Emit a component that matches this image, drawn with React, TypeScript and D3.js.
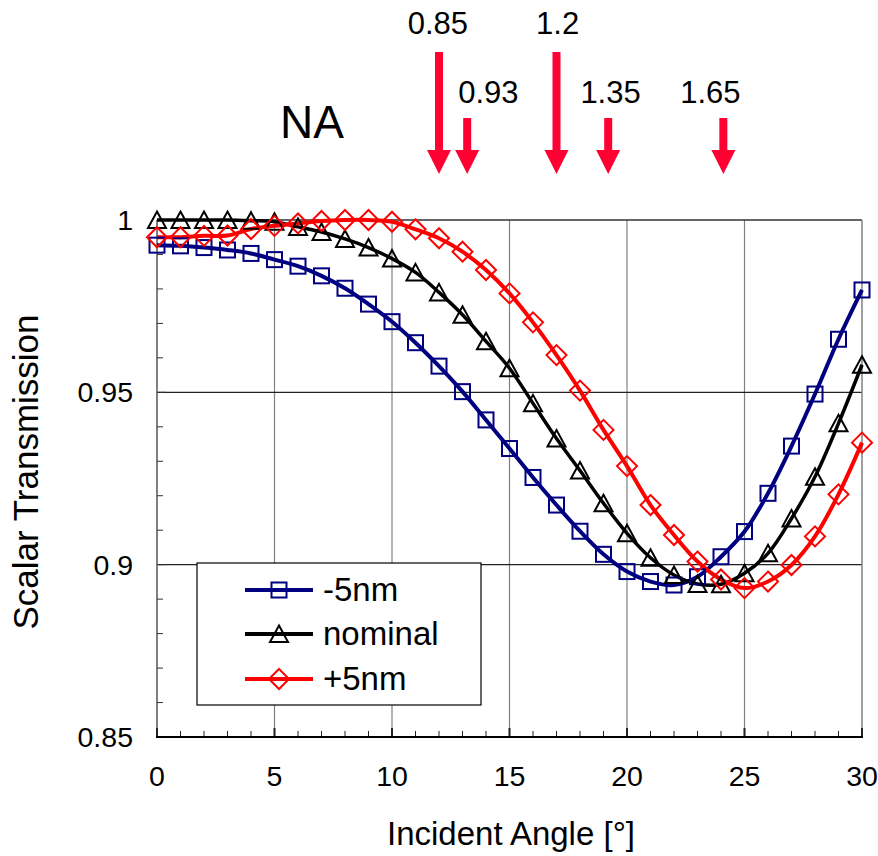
import React from 'react';
import * as d3 from 'd3';

// incident angle [deg]
const angles = [0, 1, 2, 3, 4, 5, 6, 7, 8, 9, 10, 11, 12, 13, 14, 15, 16, 17, 18, 19, 20, 21, 22, 23, 24, 25, 26, 27, 28, 29, 30];

const minus5nm = [0.9927, 0.9925, 0.992, 0.9913, 0.9903, 0.9885, 0.9866, 0.9838, 0.9802, 0.9756, 0.9705, 0.9644, 0.9576, 0.9502, 0.942, 0.9337, 0.9253, 0.9173, 0.9097, 0.903, 0.898, 0.8951, 0.8941, 0.8965, 0.9023, 0.9096, 0.9207, 0.9344, 0.9495, 0.9654, 0.9797];
const nominal = [1.0, 1.0, 1.0, 1.0, 0.9998, 0.9995, 0.998, 0.9965, 0.9945, 0.992, 0.9888, 0.9848, 0.979, 0.9725, 0.9648, 0.957, 0.9468, 0.9366, 0.9273, 0.9178, 0.9091, 0.902, 0.897, 0.8944, 0.8943, 0.8975, 0.9033, 0.9134, 0.9255, 0.941, 0.958];
const plus5nm = [0.995, 0.995, 0.9954, 0.9955, 0.9974, 0.9983, 0.999, 0.9997, 1.0, 1.0, 0.9995, 0.9973, 0.9947, 0.9908, 0.9855, 0.9787, 0.9703, 0.9608, 0.9505, 0.9391, 0.9286, 0.9173, 0.9086, 0.9009, 0.8957, 0.8932, 0.8951, 0.8999, 0.9082, 0.9204, 0.9354];

const seriesNames = ['-5nm', 'nominal', '+5nm'];
const seriesColors = ['#000080', '#000000', '#ff0000'];
const seriesShapes = ['square', 'triangle', 'diamond'];

// NA annotation arrows: label, angle the arrow points at, angle the label sits over, long/short
const naLabels = ['0.85', '0.93', '1.2', '1.35', '1.65'];
const naAngles = [12, 13.2, 17, 19.2, 24.1];
const naLabelAngles = [11.95, 14.1, 17.05, 19.3, 23.55];
const naLong = [true, false, true, false, false];

const xTicks = [0, 5, 10, 15, 20, 25, 30];
const yTicks = [0.85, 0.9, 0.95, 1];
const yTickLabels = ['0.85', '0.9', '0.95', '1'];

const FONT = "'Liberation Sans', Arial, sans-serif";
const ARROW = '#ff0033';

const Marker = ({ shape, x, y, color }: { shape: string; x: number; y: number; color: string }) => {
  if (shape === 'square') {
    return <rect x={x - 7.5} y={y - 7.5} width={15} height={15} fill="none" stroke={color} strokeWidth={2} />;
  }
  if (shape === 'triangle') {
    return <path d={`M${x},${y - 8.5}L${x + 9},${y + 8}L${x - 9},${y + 8}Z`} fill="none" stroke={color} strokeWidth={2} />;
  }
  return <path d={`M${x},${y - 10}L${x + 10},${y}L${x},${y + 10}L${x - 10},${y}Z`} fill="none" stroke={color} strokeWidth={2} />;
};

const App = () => {
  const width = 878;
  const height = 856;
  const x = d3.scaleLinear().domain([0, 30]).range([157, 862]);
  const y = d3.scaleLinear().domain([0.85, 1]).range([737, 220]);

  const series = [minus5nm, nominal, plus5nm];
  const line = d3
    .line<number>()
    .x((_, i) => x(angles[i]))
    .y((d) => y(d))
    .curve(d3.curveCatmullRom.alpha(0.5));

  const minorX = d3.range(0, 31, 1);
  const minorY = d3.range(0, 16).map((i) => 0.85 + i * 0.01);

  const legX = 197;
  const legY = 563;
  const legRows = [590, 634, 679];

  return (
    <svg width={width} height={height} style={{ position: 'absolute', left: 0, top: 0, background: '#fff' }} fontFamily={FONT}>
      <rect width={width} height={height} fill="#fff" />

      {/* vertical grid */}
      {xTicks.slice(1, -1).map((t) => (
        <line key={'gx' + t} x1={x(t)} x2={x(t)} y1={y(1)} y2={y(0.85)} stroke="#808080" strokeWidth={1.2} />
      ))}
      {/* horizontal grid */}
      {[0.9, 0.95].map((t) => (
        <line key={'gy' + t} x1={x(0)} x2={x(30)} y1={y(t)} y2={y(t)} stroke="#222" strokeWidth={1.2} />
      ))}
      {/* top + right border */}
      <line x1={x(0)} x2={x(30)} y1={y(1)} y2={y(1)} stroke="#333" strokeWidth={1.5} />
      <line x1={x(30)} x2={x(30)} y1={y(1)} y2={y(0.85)} stroke="#808080" strokeWidth={1.5} />

      {/* axes */}
      <line x1={x(0)} x2={x(0)} y1={y(1)} y2={y(0.85)} stroke="#808080" strokeWidth={2} />
      {minorY.map((t, i) => (
        <line key={'my' + i} x1={x(0)} x2={x(0) + (i % 5 === 0 ? 9 : 6)} y1={y(t)} y2={y(t)} stroke="#333" strokeWidth={1} />
      ))}
      {minorX.map((t) => (
        <line key={'mx' + t} x1={x(t)} x2={x(t)} y1={y(0.85)} y2={y(0.85) - (t % 5 === 0 ? 9 : 6)} stroke="#222" strokeWidth={t % 5 === 0 ? 2 : 1} />
      ))}
      <line x1={x(0) - 1} x2={x(30) + 1} y1={y(0.85)} y2={y(0.85)} stroke="#000" strokeWidth={2} />

      {/* tick labels */}
      {yTicks.map((t, i) => (
        <text key={'yl' + t} x={133} y={y(t) + 10} textAnchor="end" fontSize={28.5}>
          {yTickLabels[i]}
        </text>
      ))}
      {xTicks.map((t) => (
        <text key={'xl' + t} x={x(t)} y={786} textAnchor="middle" fontSize={28.5}>
          {t}
        </text>
      ))}

      {/* axis titles */}
      <text x={511} y={845} textAnchor="middle" fontSize={33}>
        Incident Angle [°]
      </text>
      <text transform="translate(38,472) rotate(-90)" textAnchor="middle" fontSize={35}>
        Scalar Transmission
      </text>

      {/* series lines */}
      {series.map((s, k) => (
        <path key={'l' + k} d={line(s) || ''} fill="none" stroke={seriesColors[k]} strokeWidth={k === 1 ? 3.5 : 4} />
      ))}
      {/* markers */}
      {series.map((s, k) =>
        s.map((v, i) => <Marker key={`m${k}-${i}`} shape={seriesShapes[k]} x={x(angles[i])} y={y(v)} color={seriesColors[k]} />)
      )}

      {/* legend */}
      <rect x={legX} y={legY} width={284} height={142} fill="#fff" stroke="#000" strokeWidth={1.2} />
      {seriesNames.map((n, k) => (
        <g key={'lg' + k}>
          <line x1={245} x2={313} y1={legRows[k]} y2={legRows[k]} stroke={seriesColors[k]} strokeWidth={4} />
          <Marker shape={seriesShapes[k]} x={279} y={legRows[k]} color={seriesColors[k]} />
          <text x={323} y={legRows[k] + 11} fontSize={33}>
            {n}
          </text>
        </g>
      ))}

      {/* NA annotations */}
      <text x={280} y={138} fontSize={46}>
        NA
      </text>
      {naLabels.map((lab, i) => {
        const cx = x(naAngles[i]);
        const top = naLong[i] ? 52 : 118;
        const tip = 174;
        const headStart = tip - 24;
        return (
          <g key={'na' + i}>
            <rect x={cx - 4} y={top} width={8} height={headStart - top + 1} fill={ARROW} />
            <path d={`M${cx - 12},${headStart}L${cx + 12},${headStart}L${cx},${tip}Z`} fill={ARROW} />
            <text x={x(naLabelAngles[i])} y={naLong[i] ? 34 : 103} textAnchor="middle" fontSize={31}>
              {lab}
            </text>
          </g>
        );
      })}
    </svg>
  );
};

export default App;
